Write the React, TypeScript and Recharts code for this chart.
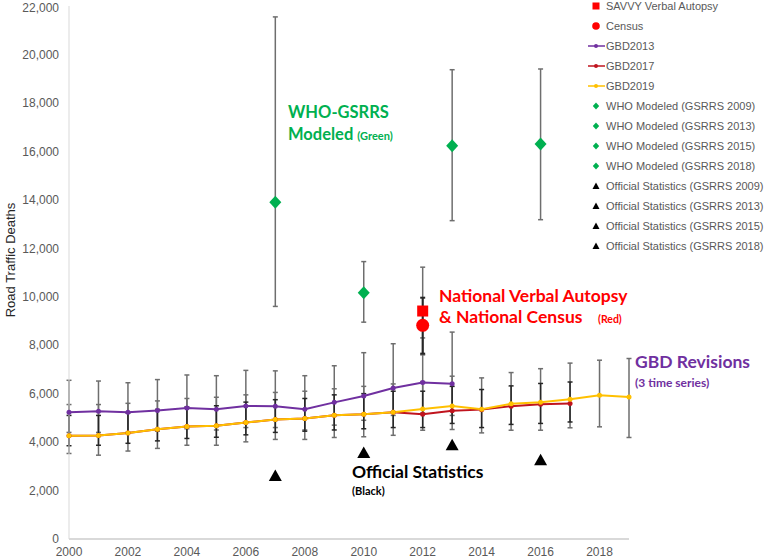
import React from "react";
import {
  ComposedChart,
  Line,
  Scatter,
  XAxis,
  YAxis,
  ErrorBar,
  Legend,
} from "recharts";

// ---------- data ----------
const GBD_YEARS = [2000, 2001, 2002, 2003, 2004, 2005, 2006, 2007, 2008, 2009, 2010, 2011, 2012, 2013, 2014, 2015, 2016, 2017, 2018, 2019];

const GBD2013 = [5230, 5270, 5230, 5300, 5410, 5360, 5490, 5480, 5360, 5640, 5900, 6230, 6460, 6410];
const GBD2013_LO = [4400, 4400, 4400, 4450, 4550, 4500, 4600, 4600, 4500, 4700, 4900, 5100, 5200, 5100];
const GBD2013_HI = [6550, 6520, 6450, 6580, 6770, 6740, 6960, 6940, 6740, 7150, 7690, 8060, 8300, 8540];

const GBD2017 = [4260, 4270, 4380, 4530, 4640, 4670, 4810, 4930, 4970, 5110, 5150, 5230, 5150, 5290, 5340, 5480, 5560, 5590];
const GBD2017_LO = [3850, 3870, 3950, 4050, 4150, 4200, 4300, 4400, 4450, 4500, 4550, 4600, 4600, 4770, 4600, 4730, 4770, 4830];
const GBD2017_HI = [5100, 5100, 5200, 5350, 5450, 5500, 5650, 5750, 5800, 5950, 6000, 6100, 6100, 6300, 6170, 6320, 6420, 6480];

const GBD2019 = [4260, 4270, 4380, 4530, 4640, 4670, 4810, 4930, 4970, 5110, 5150, 5230, 5370, 5490, 5360, 5580, 5640, 5770, 5930, 5860];
const GBD2019_LO = [3530, 3460, 3630, 3740, 3870, 3870, 4010, 4110, 4110, 4190, 4220, 4280, 4490, 4520, 4380, 4490, 4490, 4590, 4630, 4190];
const GBD2019_HI = [5550, 5550, 5600, 5700, 5800, 5850, 5950, 6050, 6100, 6200, 6300, 6400, 6500, 6720, 6650, 6870, 7030, 7260, 7380, 7450];

const WHO_YEARS = [2007, 2010, 2013, 2016];
const WHO_MODELED = [13900, 10160, 16230, 16300];
const WHO_LO = [9600, 8950, 13140, 13180];
const WHO_HI = [21550, 11450, 19370, 19400];

const OFFICIAL = [2600, 3550, 3870, 3250];

const SAVVY_YEAR = 2012;
const SAVVY = 9410;
const SAVVY_LO = 7600;
const SAVVY_HI = 11220;

const CENSUS_YEAR = 2012;
const CENSUS = 8820;
const CENSUS_LO = 7650;
const CENSUS_HI = 9960;

const X_TICKS = [2000, 2002, 2004, 2006, 2008, 2010, 2012, 2014, 2016, 2018];
const Y_TICKS = [0, 2000, 4000, 6000, 8000, 10000, 12000, 14000, 16000, 18000, 20000, 22000];

const LEGEND_NAMES = [
  "SAVVY Verbal Autopsy",
  "Census",
  "GBD2013",
  "GBD2017",
  "GBD2019",
  "WHO Modeled (GSRRS 2009)",
  "WHO Modeled (GSRRS 2013)",
  "WHO Modeled (GSRRS 2015)",
  "WHO Modeled (GSRRS 2018)",
  "Official Statistics (GSRRS 2009)",
  "Official Statistics (GSRRS 2013)",
  "Official Statistics (GSRRS 2015)",
  "Official Statistics (GSRRS 2018)",
];
const LEGEND_KINDS = ["square", "circle", "line", "line", "line", "diamond", "diamond", "diamond", "diamond", "triangle", "triangle", "triangle", "triangle"];

// ---------- colours ----------
const PURPLE = "#7030A0";
const DARKRED = "#C0141E";
const YELLOW = "#FFC000";
const GREEN = "#00B050";
const RED = "#FF0000";
const LEGEND_COLORS = [RED, RED, PURPLE, DARKRED, YELLOW, GREEN, GREEN, GREEN, GREEN, "#000", "#000", "#000", "#000"];

// ---------- derived tables ----------
const mkSeries = (vals: number[], lo: number[], hi: number[]) =>
  vals.map((v, i) => ({ year: GBD_YEARS[i], v, err: [v - lo[i], hi[i] - v] }));

const gbd2013Data = mkSeries(GBD2013, GBD2013_LO, GBD2013_HI);
const gbd2017Data = mkSeries(GBD2017, GBD2017_LO, GBD2017_HI);
const gbd2019Data = mkSeries(GBD2019, GBD2019_LO, GBD2019_HI);

const whoData = WHO_YEARS.map((y, i) => [
  { year: y, v: WHO_MODELED[i], err: [WHO_MODELED[i] - WHO_LO[i], WHO_HI[i] - WHO_MODELED[i]] },
]);
const officialData = WHO_YEARS.map((y, i) => [{ year: y, v: OFFICIAL[i] }]);
const savvyData = [{ year: SAVVY_YEAR, v: SAVVY, err: [SAVVY - SAVVY_LO, SAVVY_HI - SAVVY] }];
const censusData = [{ year: CENSUS_YEAR, v: CENSUS, err: [CENSUS - CENSUS_LO, CENSUS_HI - CENSUS] }];

// ---------- shapes ----------
const DiamondShape = (p: any) => (
  <polygon
    points={`${p.cx},${p.cy - 6.5} ${p.cx + 6},${p.cy} ${p.cx},${p.cy + 6.5} ${p.cx - 6},${p.cy}`}
    fill={GREEN}
  />
);
const TriangleShape = (p: any) => (
  <polygon
    points={`${p.cx},${p.cy - 6.5} ${p.cx + 6.5},${p.cy + 5} ${p.cx - 6.5},${p.cy + 5}`}
    fill="#000"
  />
);
const SquareShape = (p: any) => <rect x={p.cx - 5.5} y={p.cy - 5.5} width={11} height={11} fill={RED} />;
const CircleShape = (p: any) => <circle cx={p.cx} cy={p.cy} r={6.5} fill={RED} />;

const FONT = "'Liberation Sans', Arial, sans-serif";
const ANNOT = "Lato, 'Open Sans', sans-serif";

const LegendContent = () => (
  <svg width={188} height={260} style={{ display: "block", overflow: "visible" }}>
    {LEGEND_NAMES.map((name, i) => {
      const cy = 6 + i * 20;
      const cx = 16;
      const c = LEGEND_COLORS[i];
      const k = LEGEND_KINDS[i];
      let marker: React.ReactNode = null;
      if (k === "square") marker = <rect x={cx - 3.5} y={cy - 3.5} width={7} height={7} fill={c} />;
      else if (k === "circle") marker = <circle cx={cx} cy={cy} r={3.8} fill={c} />;
      else if (k === "line")
        marker = (
          <g>
            <line x1={cx - 8} x2={cx + 9} y1={cy} y2={cy} stroke={c} strokeWidth={1.5} />
            <circle cx={cx} cy={cy} r={2} fill={c} />
          </g>
        );
      else if (k === "diamond")
        marker = <polygon points={`${cx},${cy - 3.5} ${cx + 3.2},${cy} ${cx},${cy + 3.5} ${cx - 3.2},${cy}`} fill={c} />;
      else marker = <polygon points={`${cx},${cy - 3.5} ${cx + 3.5},${cy + 3} ${cx - 3.5},${cy + 3}`} fill={c} />;
      return (
        <g key={name}>
          {marker}
          <text x={26} y={cy + 4} fontSize={11} fill="#595959" fontFamily={FONT}>
            {name}
          </text>
        </g>
      );
    })}
  </svg>
);

const YLabel = () => (
  <text
    x={15}
    y={260}
    transform="rotate(-90 15 260)"
    textAnchor="middle"
    fontSize={13}
    fill="#262626"
    fontFamily={FONT}
  >
    Road Traffic Deaths
  </text>
);

const ERR_GRAY = "#6e6e6e";
const ERR_DARK = "#262626";

export default function App() {
  return (
    <div style={{ position: "absolute", left: 0, top: 0, width: 768, height: 560, background: "#fff" }}>
      <ComposedChart width={768} height={560} margin={{ top: 6, right: 138, bottom: 0, left: 0 }}>
        <XAxis
          dataKey="year"
          type="number"
          domain={[2000, 2019]}
          ticks={X_TICKS}
          allowDecimals={false}
          tickLine={false}
          axisLine={{ stroke: "#d9d9d9", strokeWidth: 2 }}
          tick={{ fill: "#595959", fontSize: 12, fontFamily: FONT }}
          height={21}
        />
        <YAxis
          type="number"
          domain={[0, 22000]}
          ticks={Y_TICKS}
          tickLine={false}
          axisLine={{ stroke: "#d9d9d9", strokeWidth: 1 }}
          tick={{ fill: "#595959", fontSize: 12, fontFamily: FONT, dx: -2 }}
          tickFormatter={(v: number) => v.toLocaleString("en-US")}
          width={69}
          label={{ content: () => <YLabel /> }}
        />
        <Legend
          verticalAlign="top"
          align="right"
          layout="vertical"
          content={() => <LegendContent />}
          wrapperStyle={{ position: "absolute", left: 580, top: 0, width: 1, height: 1, overflow: "visible" }}
        />

        {/* error bars (drawn under the lines) */}
        <Line data={gbd2019Data} dataKey="v" stroke="none" dot={false} activeDot={false} legendType="none" isAnimationActive={false}>
          <ErrorBar dataKey="err" direction="y" width={2.5} stroke={ERR_GRAY} strokeWidth={1.5} />
        </Line>
        <Line data={gbd2013Data} dataKey="v" stroke="none" dot={false} activeDot={false} legendType="none" isAnimationActive={false}>
          <ErrorBar dataKey="err" direction="y" width={2.5} stroke={ERR_GRAY} strokeWidth={1.5} />
        </Line>
        <Line data={gbd2017Data} dataKey="v" stroke="none" dot={false} activeDot={false} legendType="none" isAnimationActive={false}>
          <ErrorBar dataKey="err" direction="y" width={2.5} stroke={ERR_DARK} strokeWidth={1.5} />
        </Line>

        {/* GBD lines */}
        <Line
          data={gbd2013Data}
          dataKey="v"
          name="GBD2013"
          stroke={PURPLE}
          strokeWidth={2}
          dot={{ r: 2.5, fill: PURPLE, stroke: PURPLE, strokeWidth: 0 }}
          activeDot={false}
          isAnimationActive={false}
        />
        <Line
          data={gbd2017Data}
          dataKey="v"
          name="GBD2017"
          stroke={DARKRED}
          strokeWidth={2}
          dot={{ r: 2.5, fill: DARKRED, stroke: DARKRED, strokeWidth: 0 }}
          activeDot={false}
          isAnimationActive={false}
        />
        <Line
          data={gbd2019Data}
          dataKey="v"
          name="GBD2019"
          stroke={YELLOW}
          strokeWidth={2}
          dot={{ r: 2.5, fill: YELLOW, stroke: YELLOW, strokeWidth: 0 }}
          activeDot={false}
          isAnimationActive={false}
        />

        {/* WHO modeled */}
        {whoData.map((d, i) => (
          <Scatter key={"who" + i} data={d} dataKey="v" name={LEGEND_NAMES[5 + i]} shape={DiamondShape} isAnimationActive={false}>
            <ErrorBar dataKey="err" direction="y" width={2.5} stroke={ERR_GRAY} strokeWidth={1.5} />
          </Scatter>
        ))}

        {/* SAVVY and census */}
        <Scatter data={savvyData} dataKey="v" name="SAVVY Verbal Autopsy" shape={SquareShape} isAnimationActive={false}>
          <ErrorBar dataKey="err" direction="y" width={2.5} stroke={ERR_GRAY} strokeWidth={1.5} />
        </Scatter>
        <Scatter data={censusData} dataKey="v" name="Census" shape={CircleShape} isAnimationActive={false}>
          <ErrorBar dataKey="err" direction="y" width={2.5} stroke={ERR_DARK} strokeWidth={2} />
        </Scatter>

        {/* Official statistics */}
        {officialData.map((d, i) => (
          <Scatter key={"off" + i} data={d} dataKey="v" name={LEGEND_NAMES[9 + i]} shape={TriangleShape} isAnimationActive={false} />
        ))}
      </ComposedChart>

      <svg width={768} height={560} style={{ position: "absolute", left: 0, top: 0, pointerEvents: "none" }}>
        <g fontFamily={ANNOT} fontWeight={700}>
          <text x={288} y={118} fontSize={16.5} fill={GREEN}>WHO-GSRRS</text>
          <text x={288} y={140} fontSize={16.5} fill={GREEN}>
            Modeled <tspan fontSize={11}>(Green)</tspan>
          </text>
          <text x={439} y={302} fontSize={17.5} fill={RED}>National Verbal Autopsy</text>
          <text x={439} y={323} fontSize={17.5} fill={RED}>&amp; National Census</text>
          <text x={598} y={323} fontSize={10.5} fill={RED}>(Red)</text>
          <text x={635} y={368} fontSize={17.5} fill={PURPLE}>GBD Revisions</text>
          <text x={635} y={387} fontSize={12} fill={PURPLE}>(3 time series)</text>
          <text x={352} y={478} fontSize={17.5} fill="#000">Official Statistics</text>
          <text x={352} y={495} fontSize={11} fill="#000">(Black)</text>
        </g>
      </svg>
    </div>
  );
}
